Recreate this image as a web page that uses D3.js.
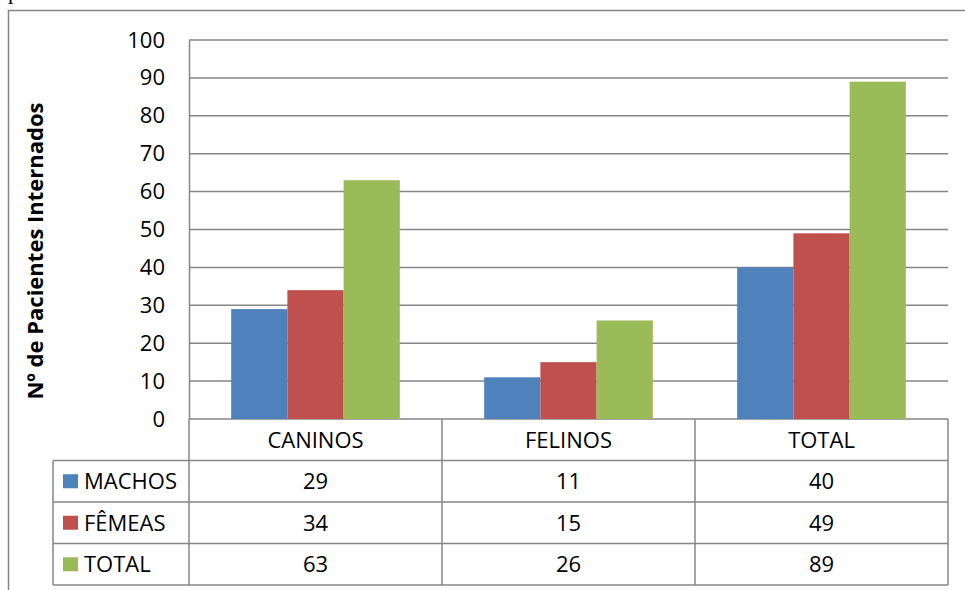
<!DOCTYPE html>
<html>
<head>
<meta charset="utf-8">
<script src="https://cdn.jsdelivr.net/npm/d3@7"></script>
<style>
  body { margin: 0; background: #fff; }
  text { font-family: "Open Sans", Lato, sans-serif; fill: #000; }
</style>
</head>
<body>
<div id="chart"></div>
<script>
// data
const categories = ["CANINOS", "FELINOS", "TOTAL"];
const seriesNames = ["MACHOS", "FÊMEAS", "TOTAL"];
const machos = [29, 11, 40];
const femeas = [34, 15, 49];
const total = [63, 26, 89];
const yTicks = [0, 10, 20, 30, 40, 50, 60, 70, 80, 90, 100];
const colors = ["#4F81BD", "#C0504D", "#9BBB59"];

const seriesValues = [machos, femeas, total];

const W = 965, H = 590;
const plot = { left: 189, right: 948, top: 40, bottom: 419 };
const tableLeft = 53;
const rowH = 41.5;

const svg = d3.select("#chart")
  .append("svg")
  .attr("width", W)
  .attr("height", H);

// stray text from the page above (only its tail shows)
svg.append("text")
  .attr("x", 8)
  .attr("y", -1)
  .style("font-family", "'Liberation Serif', serif")
  .style("font-size", "22px")
  .text("p");

// outer chart frame (runs off the right and bottom)
svg.append("rect")
  .attr("x", 8.5)
  .attr("y", 10.5)
  .attr("width", 1000)
  .attr("height", 700)
  .attr("fill", "none")
  .attr("stroke", "#868686")
  .attr("stroke-width", 1.5);

// scales
const x = d3.scaleBand()
  .domain(categories)
  .range([plot.left, plot.right])
  .padding(0);

const xInner = d3.scaleBand()
  .domain(d3.range(seriesNames.length))
  .range([0, x.bandwidth()])
  .paddingInner(0)
  .paddingOuter(0.75);

const y = d3.scaleLinear()
  .domain([0, 100])
  .range([plot.bottom, plot.top]);

// gridlines
svg.append("g")
  .selectAll("line")
  .data(yTicks)
  .enter()
  .append("line")
  .attr("x1", plot.left)
  .attr("x2", plot.right)
  .attr("y1", d => y(d))
  .attr("y2", d => y(d))
  .attr("stroke", "#868686")
  .attr("stroke-width", 1.5);

// y axis
const yAxis = svg.append("g")
  .attr("transform", `translate(${plot.left},0)`)
  .call(d3.axisLeft(y).tickValues(yTicks).tickSize(0).tickPadding(24));
yAxis.select(".domain").attr("stroke", "#868686").attr("stroke-width", 1.5);
yAxis.selectAll("text")
  .style("font-size", "22px")
  .style("font-family", "'Open Sans', sans-serif");

// y axis title
svg.append("text")
  .attr("transform", `translate(43,251) rotate(-90)`)
  .attr("text-anchor", "middle")
  .style("font-size", "22px")
  .style("font-weight", "700")
  .text("Nº de Pacientes Internados");

// bars
seriesValues.forEach((vals, si) => {
  svg.append("g")
    .selectAll("rect")
    .data(vals)
    .enter()
    .append("rect")
    .attr("x", (d, i) => x(categories[i]) + xInner(si))
    .attr("width", xInner.bandwidth())
    .attr("y", d => y(d))
    .attr("height", d => y(0) - y(d))
    .attr("fill", colors[si]);
});

// data table
const tableTop = plot.bottom;
const grid = svg.append("g")
  .attr("stroke", "#868686")
  .attr("stroke-width", 1.5);

grid.append("line")
  .attr("x1", plot.left).attr("x2", plot.left)
  .attr("y1", tableTop).attr("y2", tableTop + rowH * 4);
categories.forEach(c => {
  grid.append("line")
    .attr("x1", x(c) + x.bandwidth()).attr("x2", x(c) + x.bandwidth())
    .attr("y1", tableTop).attr("y2", tableTop + rowH * 4);
});
d3.range(1, 5).forEach(r => {
  grid.append("line")
    .attr("x1", tableLeft).attr("x2", plot.right)
    .attr("y1", tableTop + rowH * r).attr("y2", tableTop + rowH * r);
});
grid.append("line")
  .attr("x1", tableLeft).attr("x2", tableLeft)
  .attr("y1", tableTop + rowH).attr("y2", tableTop + rowH * 4);

// category labels
svg.append("g")
  .selectAll("text")
  .data(categories)
  .enter()
  .append("text")
  .attr("x", d => x(d) + x.bandwidth() / 2)
  .attr("y", tableTop + rowH / 2 + 8)
  .attr("text-anchor", "middle")
  .style("font-size", "22px")
  .text(d => d);

// legend keys + values
seriesNames.forEach((name, si) => {
  const rowMid = tableTop + rowH * (si + 1) + rowH / 2;
  svg.append("rect")
    .attr("x", 63)
    .attr("y", rowMid - 7)
    .attr("width", 15)
    .attr("height", 14)
    .attr("fill", colors[si]);
  svg.append("text")
    .attr("x", 84)
    .attr("y", rowMid + 8)
    .style("font-size", "22px")
    .text(name);
  svg.append("g")
    .selectAll("text")
    .data(seriesValues[si])
    .enter()
    .append("text")
    .attr("x", (d, i) => x(categories[i]) + x.bandwidth() / 2)
    .attr("y", rowMid + 8)
    .attr("text-anchor", "middle")
    .style("font-size", "22px")
    .text(d => d);
});
</script>
</body>
</html>
